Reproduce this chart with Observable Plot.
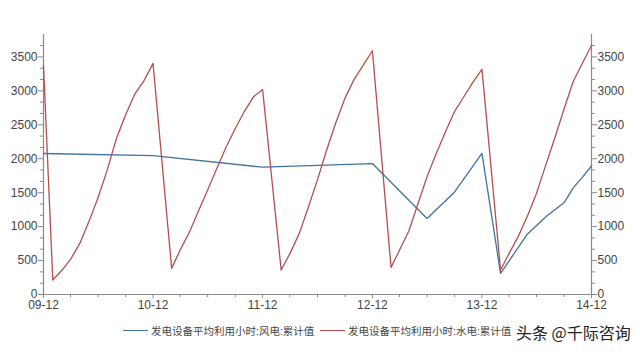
<!DOCTYPE html>
<html>
<head>
<meta charset="utf-8">
<script src="https://cdn.jsdelivr.net/npm/d3@7"></script>
<script src="https://cdn.jsdelivr.net/npm/@observablehq/plot@0.6"></script>
<style>
  body { margin: 0; background: #fff; }
  #chart { position: relative; width: 640px; height: 354px; overflow: hidden; background: #fff; }
  #legend { position: relative; width: 640px; height: 42px; font-family: "Liberation Sans", "Noto Sans CJK SC", sans-serif; font-size: 10.5px; color: #444; }
  #legend .item { position: absolute; top: 11px; display: flex; align-items: center; white-space: nowrap; }
  #legend .swatch { display: inline-block; width: 25px; height: 0; border-top: 1.5px solid; margin-right: 3px; }
  #legend .credit { position: absolute; top: 8px; left: 516px; font-family: "Noto Sans CJK SC", sans-serif; font-size: 16px; color: #222; white-space: nowrap; }
</style>
</head>
<body>
<div id="chart"></div>
<script>
// Average utilisation hours of generating equipment, cumulative year-to-date values
const windLabel = "发电设备平均利用小时:风电:累计值";
const hydroLabel = "发电设备平均利用小时:水电:累计值";

// Wind power (风电) cumulative hours
const windMonths = ["2009-12", "2010-12", "2011-12", "2012-12", "2013-06", "2013-09", "2013-12",
  "2014-02", "2014-05", "2014-07", "2014-09", "2014-10", "2014-11", "2014-12"];
const windValues = [2077, 2047, 1875, 1929, 1119, 1510, 2080,
  311, 888, 1142, 1354, 1570, 1730, 1893];

// Hydropower (水电) cumulative hours
const hydroMonths = [
  "2009-12",
  "2010-01", "2010-02", "2010-03", "2010-04", "2010-05", "2010-06", "2010-07", "2010-08", "2010-09", "2010-10", "2010-11", "2010-12",
  "2011-02", "2011-03", "2011-04", "2011-05", "2011-06", "2011-07", "2011-08", "2011-09", "2011-10", "2011-11", "2011-12",
  "2012-02", "2012-03", "2012-04", "2012-05", "2012-06", "2012-07", "2012-08", "2012-09", "2012-10", "2012-11", "2012-12",
  "2013-02", "2013-03", "2013-04", "2013-05", "2013-06", "2013-07", "2013-08", "2013-09", "2013-10", "2013-11", "2013-12",
  "2014-02", "2014-03", "2014-04", "2014-05", "2014-06", "2014-07", "2014-08", "2014-09", "2014-10", "2014-11", "2014-12"
];
const hydroValues = [
  3370,
  213, 360, 517, 752, 1070, 1430, 1828, 2298, 2653, 2951, 3150, 3404,
  385, 653, 917, 1226, 1540, 1852, 2166, 2445, 2695, 2915, 3019,
  360, 602, 897, 1279, 1692, 2122, 2529, 2896, 3169, 3383, 3591,
  399, 653, 932, 1326, 1736, 2068, 2395, 2699, 2909, 3129, 3318,
  360, 602, 856, 1150, 1493, 1899, 2310, 2740, 3138, 3410, 3669
];

// Axis ticks
const xMajorMonths = ["2009-12", "2010-12", "2011-12", "2012-12", "2013-12", "2014-12"];
const xMinorMonths = ["2010-03", "2010-06", "2010-09", "2011-03", "2011-06", "2011-09",
  "2012-03", "2012-06", "2012-09", "2013-03", "2013-06", "2013-09", "2014-03", "2014-06", "2014-09"];
const yMajorTicks = [0, 500, 1000, 1500, 2000, 2500, 3000, 3500];
const yMinorTicks = d3.range(0, 3700, 500 / 3).filter(v => Math.abs(v / 500 - Math.round(v / 500)) > 1e-6);

const parseMonth = d3.utcParse("%Y-%m");
const windColor = "#41739f";
const hydroColor = "#b54f4e";
const axisColor = "#8a8a8a";
const textColor = "#444";

const wind = windMonths.map((m, i) => ({date: parseMonth(m), value: windValues[i]}));
const hydro = hydroMonths.map((m, i) => ({date: parseMonth(m), value: hydroValues[i]}));
const xMajor = xMajorMonths.map(parseMonth);
const xMinor = xMinorMonths.map(parseMonth);
const xDomain = [xMajor[0], xMajor[xMajor.length - 1]];
const intFormat = d3.format("d");

const chart = Plot.plot({
  width: 640,
  height: 312,
  marginLeft: 43,
  marginRight: 49,
  marginTop: 34,
  marginBottom: 18,
  style: {fontFamily: "Liberation Sans, sans-serif", fontSize: "12px", color: textColor, background: "#fff"},
  x: {type: "utc", domain: xDomain},
  y: {domain: [0, 3830]},
  marks: [
    // axis lines
    Plot.ruleX(xDomain, {stroke: axisColor, strokeWidth: 1.2}),
    Plot.ruleY([0], {stroke: axisColor, strokeWidth: 1.2}),
    // left axis
    Plot.axisY(yMajorTicks, {anchor: "left", tickSize: 5, tickPadding: 1, tickFormat: intFormat, stroke: axisColor, fill: textColor, label: null}),
    Plot.axisY(yMinorTicks, {anchor: "left", tickSize: 3, tickFormat: () => "", stroke: axisColor, label: null}),
    // right axis
    Plot.axisY(yMajorTicks, {anchor: "right", tickSize: 5, tickPadding: 1, tickFormat: intFormat, stroke: axisColor, fill: textColor, label: null}),
    Plot.axisY(yMinorTicks, {anchor: "right", tickSize: 3, tickFormat: () => "", stroke: axisColor, label: null}),
    // bottom axis
    Plot.axisX(xMajor, {anchor: "bottom", tickSize: 4, tickPadding: 2, tickFormat: d3.utcFormat("%y-%m"), stroke: axisColor, fill: textColor, label: null}),
    Plot.axisX(xMinor, {anchor: "bottom", tickSize: 3, tickFormat: () => "", stroke: axisColor, label: null}),
    // series
    Plot.line(wind, {x: "date", y: "value", stroke: windColor, strokeWidth: 1.3}),
    Plot.line(hydro, {x: "date", y: "value", stroke: hydroColor, strokeWidth: 1.3})
  ]
});

const root = document.getElementById("chart");
root.appendChild(chart);

// legend below the plot
const legend = d3.select(root).append("div").attr("id", "legend");
const items = [
  {label: windLabel, color: windColor, left: 123},
  {label: hydroLabel, color: hydroColor, left: 320}
];
for (const it of items) {
  const item = legend.append("div").attr("class", "item").style("left", it.left + "px");
  item.append("span").attr("class", "swatch").style("border-color", it.color);
  item.append("span").text(it.label);
}
legend.append("div").attr("class", "credit").text("头条 @千际咨询");
</script>
</body>
</html>
